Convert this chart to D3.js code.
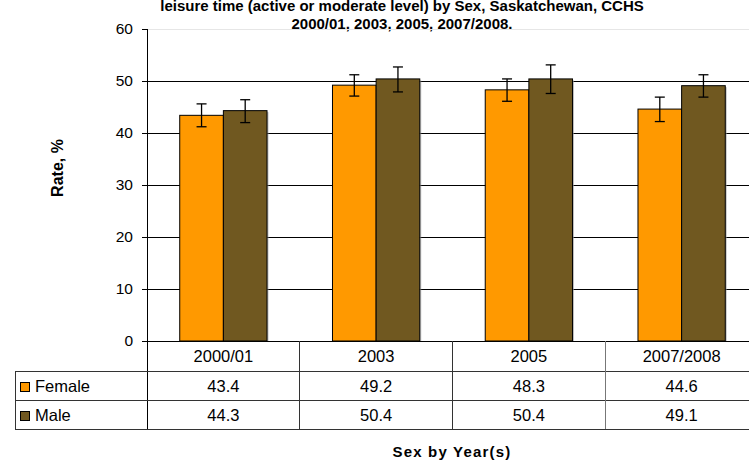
<!doctype html>
<html lang="en">
<head>
    <meta charset="UTF-8">
    <title>Leisure time activity by sex</title>
    <style>
        body { margin: 0; background: #fff; }
        svg { display: block; font-family: "Liberation Sans", Arial, sans-serif; }
    </style>
</head>
<body>

<div class="canvas">
    <svg width="749" height="462"></svg>
</div>

<script src="https://d3js.org/d3.v7.min.js"></script>
<script>
    // data
    const years = ['2000/01', '2003', '2005', '2007/2008'];
    const sexes = ['Female', 'Male'];
    const female = [43.4, 49.2, 48.3, 44.6];
    const male = [44.3, 50.4, 50.4, 49.1];
    const femaleLow = [41.2, 47.1, 46.1, 42.2];
    const femaleHigh = [45.6, 51.2, 50.4, 46.9];
    const maleLow = [42.0, 47.9, 47.6, 46.9];
    const maleHigh = [46.4, 52.7, 53.1, 51.2];
    const yTicks = [0, 10, 20, 30, 40, 50, 60];
    const titleLines = [
        'leisure time (active or moderate level) by Sex, Saskatchewan, CCHS',
        '2000/01, 2003, 2005, 2007/2008.'
    ];

    const colors = { Female: '#FF9900', Male: '#705820' };

    const series = {
        Female: { values: female, low: femaleLow, high: femaleHigh },
        Male: { values: male, low: maleLow, high: maleHigh }
    };

    const svg = d3.select('.canvas svg');

    const plotLeft = 147, plotRight = 758, plotTop = 29, plotBottom = 341;
    const tableLeft = 15;
    const rowBottoms = [371, 400, 429];

    const x0 = d3.scaleBand()
        .domain(years)
        .range([plotLeft, plotRight])
        .padding(0);

    const x1 = d3.scaleBand()
        .domain(sexes)
        .range([0, x0.bandwidth()])
        .paddingInner(0)
        .paddingOuter(0.75);

    const y = d3.scaleLinear()
        .domain([0, 60])
        .range([plotBottom, plotTop]);

    // title (top line is cropped in the source image)
    svg.append('g')
        .selectAll('text')
        .data(titleLines)
        .enter()
        .append('text')
        .attr('x', 402)
        .attr('y', (d, i) => 11 + i * 17.5)
        .attr('text-anchor', 'middle')
        .attr('font-size', 15)
        .attr('font-weight', 'bold')
        .text(d => d);

    // gridlines
    svg.append('g')
        .selectAll('line')
        .data(yTicks.filter(v => v > 0))
        .enter()
        .append('line')
        .attr('x1', plotLeft)
        .attr('x2', plotRight)
        .attr('y1', d => y(d))
        .attr('y2', d => y(d))
        .attr('stroke', d => d === 60 ? '#e6e6e6' : '#000')
        .attr('stroke-width', 1)
        .attr('shape-rendering', 'crispEdges');

    // y axis
    const yAxis = d3.axisLeft(y)
        .tickValues(yTicks)
        .tickSize(5)
        .tickPadding(9);

    const yAxisG = svg.append('g')
        .attr('transform', `translate(${plotLeft},0)`)
        .call(yAxis);
    yAxisG.select('.domain').remove();
    yAxisG.selectAll('.tick line').attr('stroke', '#000').attr('shape-rendering', 'crispEdges');
    yAxisG.selectAll('.tick text')
        .attr('font-size', 15.5)
        .attr('font-family', '"Liberation Sans", Arial, sans-serif')
        .attr('fill', '#000');

    svg.append('line')
        .attr('x1', plotLeft).attr('x2', plotLeft)
        .attr('y1', plotTop).attr('y2', rowBottoms[2])
        .attr('stroke', '#000')
        .attr('shape-rendering', 'crispEdges');

    svg.append('text')
        .attr('transform', 'translate(63,168) rotate(-90)')
        .attr('text-anchor', 'middle')
        .attr('font-size', 16)
        .attr('font-weight', 'bold')
        .text('Rate, %');

    // bars
    const groups = svg.append('g')
        .selectAll('g')
        .data(sexes)
        .enter()
        .append('g');

    groups.selectAll('rect.shadow')
        .data(s => years.map((yr, i) => ({ s, yr, v: series[s].values[i] })))
        .enter()
        .append('rect')
        .attr('class', 'shadow')
        .attr('x', d => x0(d.yr) + x1(d.s) + 1.5)
        .attr('y', d => y(d.v) + 1.5)
        .attr('width', x1.bandwidth())
        .attr('height', d => y(0) - y(d.v) - 1.5)
        .attr('fill', '#999')
        .attr('opacity', 0.6);

    groups.selectAll('rect.bar')
        .data(s => years.map((yr, i) => ({ s, yr, v: series[s].values[i] })))
        .enter()
        .append('rect')
        .attr('class', 'bar')
        .attr('x', d => x0(d.yr) + x1(d.s))
        .attr('y', d => y(d.v))
        .attr('width', x1.bandwidth())
        .attr('height', d => y(0) - y(d.v))
        .attr('fill', d => colors[d.s])
        .attr('stroke', '#000')
        .attr('stroke-width', 1);

    // error bars
    const errs = [];
    sexes.forEach(s => years.forEach((yr, i) => errs.push({
        s, yr, lo: series[s].low[i], hi: series[s].high[i]
    })));

    const errG = svg.append('g')
        .selectAll('g')
        .data(errs)
        .enter()
        .append('g')
        .attr('stroke', '#000')
        .attr('stroke-width', 1.3);

    const cx = d => x0(d.yr) + x1(d.s) + x1.bandwidth() / 2;

    errG.append('line')
        .attr('x1', cx).attr('x2', cx)
        .attr('y1', d => y(d.lo)).attr('y2', d => y(d.hi));
    errG.append('line')
        .attr('x1', d => cx(d) - 5).attr('x2', d => cx(d) + 5)
        .attr('y1', d => y(d.hi)).attr('y2', d => y(d.hi));
    errG.append('line')
        .attr('x1', d => cx(d) - 5).attr('x2', d => cx(d) + 5)
        .attr('y1', d => y(d.lo)).attr('y2', d => y(d.lo));

    // zero line / table top
    svg.append('line')
        .attr('x1', plotLeft - 5).attr('x2', plotRight)
        .attr('y1', y(0)).attr('y2', y(0))
        .attr('stroke', '#000')
        .attr('shape-rendering', 'crispEdges');

    // data table
    const table = svg.append('g')
        .attr('stroke', '#333')
        .attr('shape-rendering', 'crispEdges');

    table.selectAll('line.h')
        .data(rowBottoms)
        .enter()
        .append('line')
        .attr('x1', tableLeft).attr('x2', plotRight)
        .attr('y1', d => d).attr('y2', d => d);

    table.append('line')
        .attr('x1', tableLeft).attr('x2', tableLeft)
        .attr('y1', rowBottoms[0]).attr('y2', rowBottoms[2]);

    table.selectAll('line.v')
        .data(years.slice(1))
        .enter()
        .append('line')
        .attr('x1', d => x0(d)).attr('x2', d => x0(d))
        .attr('y1', plotBottom).attr('y2', rowBottoms[2])
        .attr('stroke', (d, i) => i === 2 ? '#777' : '#333');

    svg.append('g')
        .selectAll('text')
        .data(years)
        .enter()
        .append('text')
        .attr('x', d => x0(d) + x0.bandwidth() / 2)
        .attr('y', 362)
        .attr('text-anchor', 'middle')
        .attr('font-size', 16.5)
        .text(d => d);

    const rowBase = { Female: 392, Male: 421 };

    sexes.forEach(s => {
        svg.append('g')
            .selectAll('text')
            .data(series[s].values)
            .enter()
            .append('text')
            .attr('x', (d, i) => x0(years[i]) + x0.bandwidth() / 2)
            .attr('y', rowBase[s])
            .attr('text-anchor', 'middle')
            .attr('font-size', 16.5)
            .text(d => d.toFixed(1));

        svg.append('rect')
            .attr('x', 20.5)
            .attr('y', rowBase[s] - 9.5)
            .attr('width', 9)
            .attr('height', 9)
            .attr('fill', colors[s])
            .attr('stroke', '#000');

        svg.append('text')
            .attr('x', 35)
            .attr('y', rowBase[s])
            .attr('font-size', 16.5)
            .text(s);
    });

    // x axis title
    svg.append('text')
        .attr('x', 452)
        .attr('y', 457)
        .attr('text-anchor', 'middle')
        .attr('font-size', 15)
        .attr('font-weight', 'bold')
        .attr('letter-spacing', 1.2)
        .text('Sex by Year(s)');
</script>
</body>
</html>
